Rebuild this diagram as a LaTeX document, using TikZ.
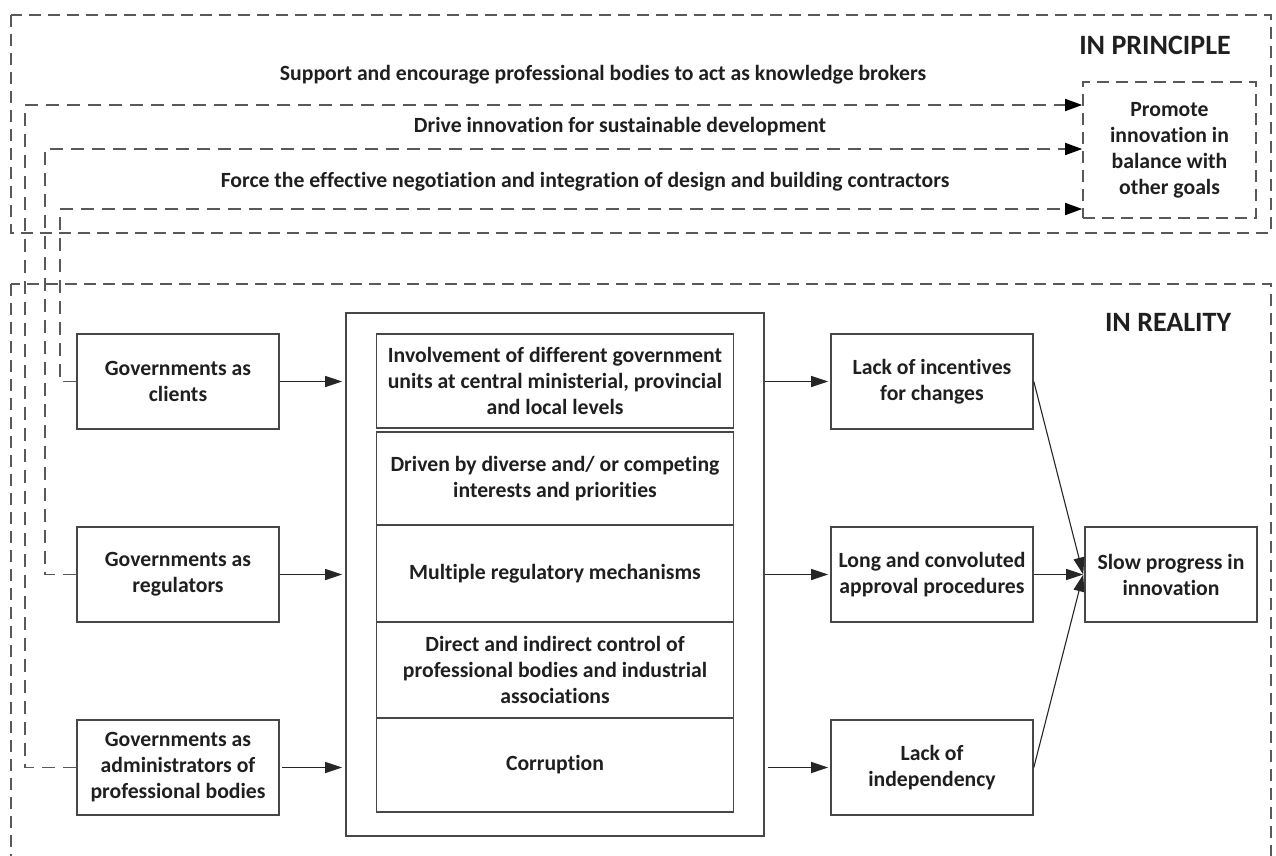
\documentclass[tikz,border=0pt]{standalone}
\usepackage{fontspec}
\setmainfont{Carlito}[Ligatures={NoCommon}]
\usetikzlibrary{arrows.meta}
\begin{document}
\begin{tikzpicture}[x=1pt,y=-1pt,
  every node/.style={font=\fontsize{21.7}{26}\selectfont\bfseries, text=black!88},
  box/.style={draw=black!72, line width=1.6pt, align=center, inner sep=0pt},
  gbox/.style={box, minimum width=202pt, minimum height=95pt},
  ibox/.style={box, minimum width=357pt},
  region/.style={draw=black!65, line width=1.4pt, dash pattern=on 12pt off 7pt},
  dline/.style={draw=black!65, line width=1.6pt, dash pattern=on 13pt off 8pt},
  arr/.style={-{Triangle[length=17pt,width=11pt]}, line width=1.3pt, black!85},
  darr/.style={dline, -{Triangle[length=17pt,width=12pt,color=black]}},
  title/.style={font=\fontsize{28}{32}\selectfont\bfseries}
]
\useasboundingbox (0,0) rectangle (1276,856);
% regions
\draw[region] (11,15) rectangle (1271,233);
\draw[region] (11,284) rectangle (1271,900);
\node[title] (tp) at (1155,45) {IN PRINCIPLE};
\node[title] (tr) at (1168,322) {IN REALITY};

% principle
\node[box, draw=black!65, dash pattern=on 12pt off 7pt, minimum width=173pt, minimum height=136pt] (prom) at (1169.5,150) {Promote\\innovation in\\balance with\\other goals};
\node (t1) at (603,75) {Support and encourage professional bodies to act as knowledge brokers};
\node (t2) at (620,127) {Drive innovation for sustainable development};
\node (t3) at (585,182) {Force the effective negotiation and integration of design and building contractors};

% left boxes
\node[gbox] (cli) at (178,381.5) {Governments as\\clients};
\node[gbox] (reg) at (178,574.5) {Governments as\\regulators};
\node[gbox] (adm) at (178,767.5) {Governments as\\administrators of\\professional bodies};

% middle
\node[box, minimum width=418pt, minimum height=523pt] (mid) at (555,574.5) {};
\node[ibox, minimum height=94pt] (i1) at (555,381) {Involvement of different government\\units at central ministerial, provincial\\and local levels};
\node[ibox, minimum height=93pt] (i2) at (555,478.5) {Driven by diverse and/ or competing\\interests and priorities};
\node[ibox, minimum height=97pt] (i3) at (555,573.5) {Multiple regulatory mechanisms};
\node[ibox, minimum height=96pt] (i4) at (555,670) {Direct and indirect control of\\professional bodies and industrial\\associations};
\node[ibox, minimum height=94pt] (i5) at (555,765) {Corruption};

% right boxes
\node[gbox] (lk1) at (932,381.5) {Lack of incentives\\for changes};
\node[gbox] (lng) at (932,574.5) {Long and convoluted\\approval procedures};
\node[gbox] (ind) at (932,767.5) {Lack of\\independency};
\node[box, minimum width=172pt, minimum height=95pt] (slow) at (1171,574.5) {Slow progress in\\innovation};

% arrows
\draw[arr] (cli.east) -- ([xshift=-3pt]cli.east -| mid.west);
\draw[arr] (reg.east) -- ([xshift=-3pt]reg.east -| mid.west);
\draw[arr] ([xshift=2pt]adm.east) -- ([xshift=-3pt]adm.east -| mid.west);
\draw[arr] (lk1.west -| mid.east) -- ([xshift=-2pt]lk1.west);
\draw[arr] (lng.west -| mid.east) -- ([xshift=-2pt]lng.west);
\draw[arr] ([xshift=3pt]ind.west -| mid.east) -- ([xshift=-2pt]ind.west);
\draw[arr, line width=1.1pt] (lk1.east) -- ([xshift=-1pt]slow.west);
\draw[arr, line width=1.1pt] (lng.east) -- ([xshift=-1pt]slow.west);
\draw[arr, line width=1.1pt] (ind.east) -- ([xshift=-1pt]slow.west);

% dashed feedback lines
\coordinate (c1a) at (25,767.5);
\coordinate (c1b) at (25,105);
\coordinate (c2a) at (45,574.5);
\coordinate (c2b) at (45,149);
\coordinate (c3a) at (60,381.5);
\coordinate (c3b) at (60,209);
\draw[darr] (adm.west) -- (c1a) -- (c1b) -- (c1b -| prom.west);
\draw[darr] (reg.west) -- (c2a) -- (c2b) -- (c2b -| prom.west);
\draw[darr] (cli.west) -- (c3a) -- (c3b) -- (c3b -| prom.west);
\end{tikzpicture}
\end{document}
